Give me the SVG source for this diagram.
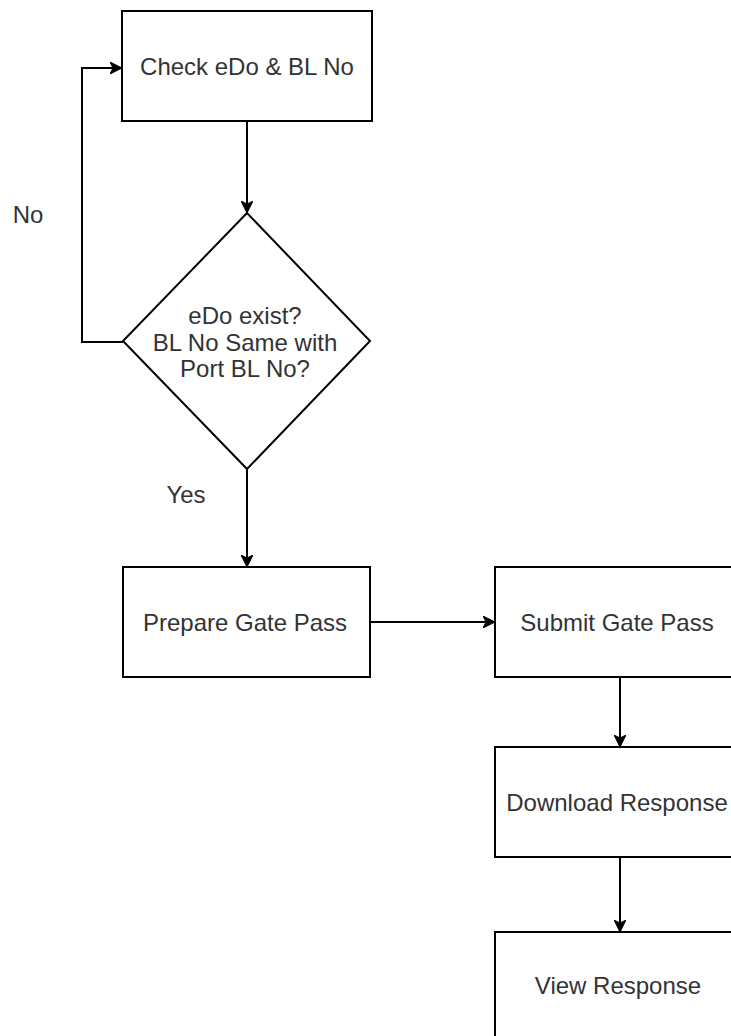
<svg xmlns="http://www.w3.org/2000/svg" width="731" height="1036" viewBox="0 0 731 1036">
  <style>
    .shape { fill: #ffffff; stroke: #000000; stroke-width: 2; }
    .edge { fill: none; stroke: #000000; stroke-width: 2; }
    .label { font-family: "Liberation Sans", Arial, sans-serif; font-size: 24px; fill: #333333; text-anchor: middle; dominant-baseline: central; }
  </style>
  <defs>
    <marker id="arrow" viewBox="0 0 12 12" refX="11" refY="6" markerWidth="12" markerHeight="12" markerUnits="userSpaceOnUse" orient="auto">
      <path d="M0,0 L12,6 L0,12 L3,6 z" fill="#000000" stroke="#000000" stroke-width="1"/>
    </marker>
  </defs>
  <rect width="731" height="1036" fill="#ffffff"/>

  <g id="connectors">
    <path class="edge" d="M247,121 L247,212" marker-end="url(#arrow)"/>
    <path class="edge" d="M123,342 L82,342 L82,68 L121,68" marker-end="url(#arrow)"/>
    <path class="edge" d="M247,469 L247,566" marker-end="url(#arrow)"/>
    <path class="edge" d="M370,622 L494,622" marker-end="url(#arrow)"/>
    <path class="edge" d="M620,677 L620,746" marker-end="url(#arrow)"/>
    <path class="edge" d="M620,857 L620,931" marker-end="url(#arrow)"/>
    <text class="label" x="28" y="214">No</text>
    <text class="label" x="186" y="494">Yes</text>
  </g>

  <g id="check">
    <rect class="shape" x="122" y="11" width="250" height="110"/>
    <text class="label" x="247" y="66">Check eDo &amp; BL No</text>
  </g>

  <g id="decision">
    <path class="shape" d="M247,213 L370,341 L247,469 L123,341 Z"/>
    <text class="label" x="245" y="315">eDo exist?</text>
    <text class="label" x="245" y="342">BL No Same with</text>
    <text class="label" x="245" y="368">Port BL No?</text>
  </g>

  <g id="prepare">
    <rect class="shape" x="123" y="567" width="247" height="110"/>
    <text class="label" x="245" y="622">Prepare Gate Pass</text>
  </g>

  <g id="submit">
    <rect class="shape" x="495" y="567" width="250" height="110"/>
    <text class="label" x="617" y="622">Submit Gate Pass</text>
  </g>

  <g id="download">
    <rect class="shape" x="495" y="747" width="250" height="110"/>
    <text class="label" x="617" y="802">Download Response</text>
  </g>

  <g id="view">
    <rect class="shape" x="495" y="932" width="250" height="110"/>
    <text class="label" x="618" y="985">View Response</text>
  </g>
</svg>
